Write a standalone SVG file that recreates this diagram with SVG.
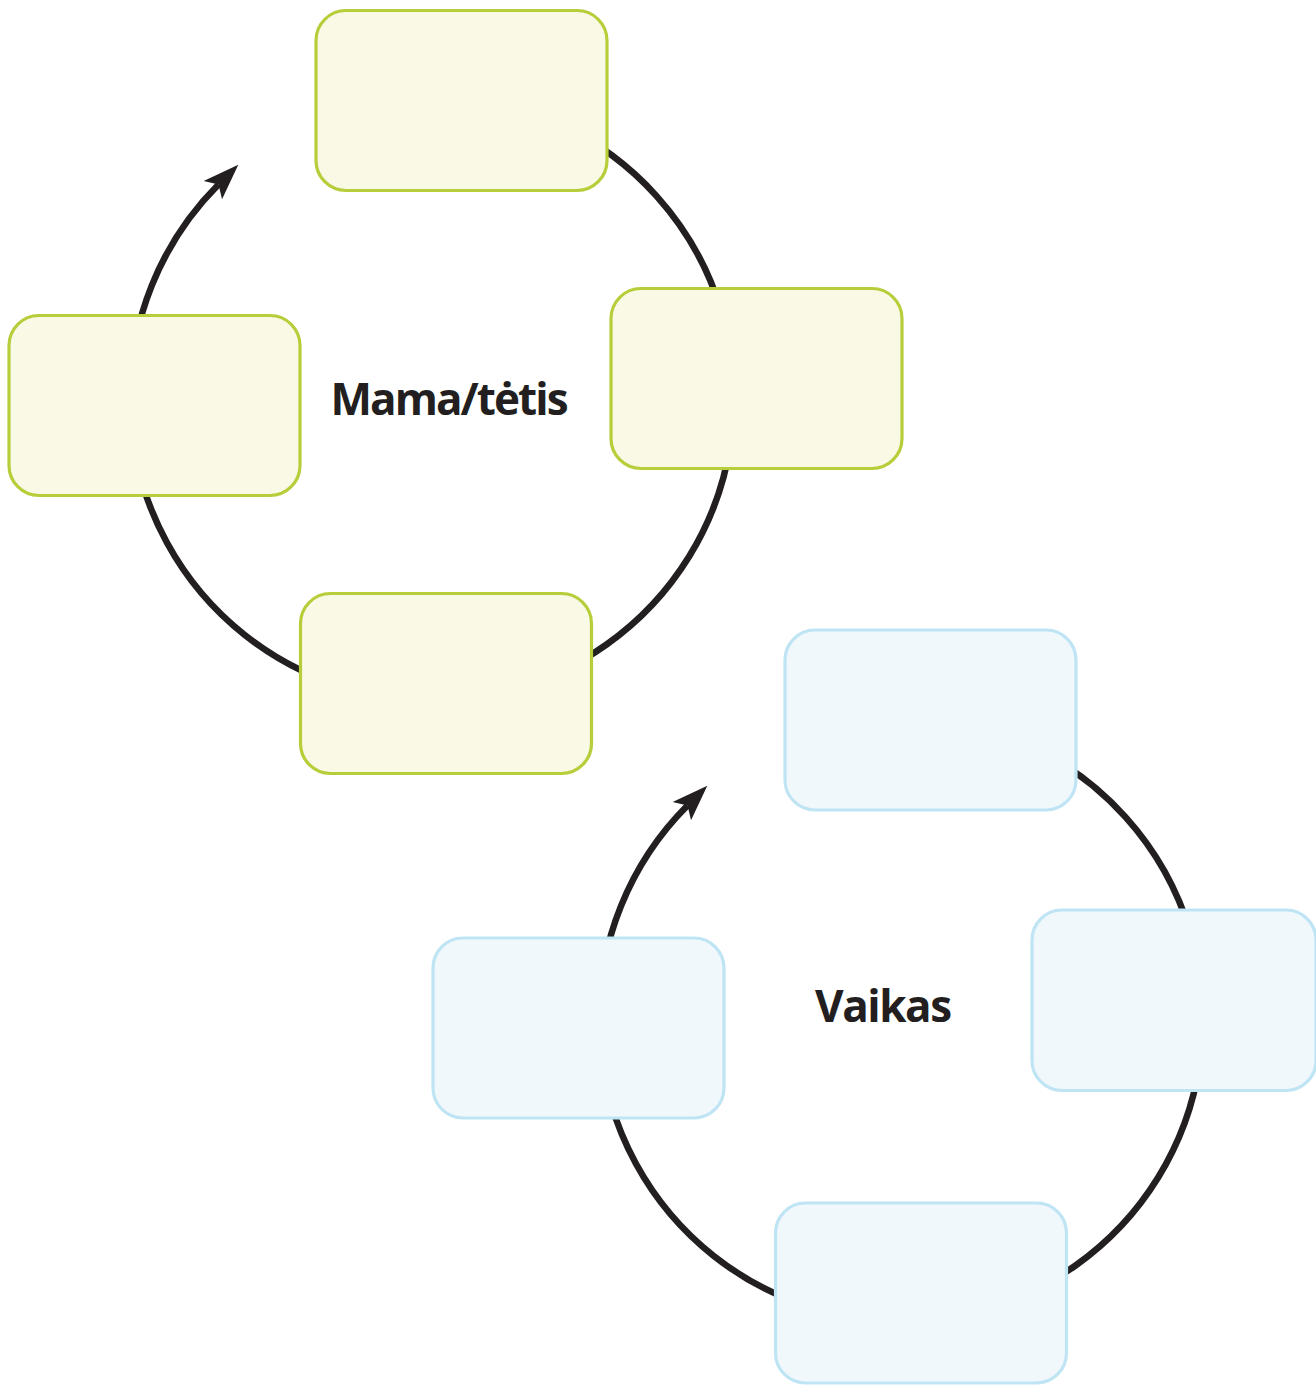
<svg xmlns="http://www.w3.org/2000/svg" width="1316" height="1385" viewBox="0 0 1316 1385">
<style>
.g{fill:#f9f9e6;stroke:#b8cd3a;stroke-width:3.2}
.b{fill:#f0f8fc;stroke:#bfe4f4;stroke-width:3.2}
.c{fill:none;stroke:#231f20;stroke-width:6.5}
.t{font-family:"Open Sans","Liberation Sans",sans-serif;font-weight:bold;font-size:44px;fill:#231f20;text-anchor:middle}
</style>
<defs>
<marker id="ah" markerUnits="userSpaceOnUse" markerWidth="40" markerHeight="30" refX="8" refY="0" orient="auto" overflow="visible">
<path d="M0,-13 L36,0 L0,13 L8,0 Z" fill="#231f20"/>
</marker>
</defs>
<rect width="1316" height="1385" fill="#ffffff"/>
<g id="connectors">
<path class="c" d="M559.6,124.3 A302,302 0 1 1 218.5,184.5" marker-end="url(#ah)"/>
<path class="c" d="M1028.6,745.3 A302,302 0 1 1 687.5,805.5" marker-end="url(#ah)"/>
</g>
<g id="parent-top"><rect class="g" x="316" y="10.5" width="291" height="180" rx="30"/></g>
<g id="parent-right"><rect class="g" x="611" y="288.5" width="291" height="180" rx="30"/></g>
<g id="parent-left"><rect class="g" x="9" y="315.5" width="291" height="180" rx="30"/></g>
<g id="parent-bottom"><rect class="g" x="300.5" y="593.5" width="291" height="180" rx="30"/></g>
<g id="parent-label"><text class="t" x="449.5" y="415" textLength="238" lengthAdjust="spacing">Mama/tėtis</text></g>
<g id="child-top"><rect class="b" x="785" y="630" width="291" height="180" rx="30"/></g>
<g id="child-right"><rect class="b" x="1032" y="910" width="284" height="180.5" rx="30"/></g>
<g id="child-left"><rect class="b" x="433" y="938" width="291" height="180" rx="30"/></g>
<g id="child-bottom"><rect class="b" x="775.5" y="1203" width="291" height="180" rx="30"/></g>
<g id="child-label"><text class="t" x="883.5" y="1022" textLength="137" lengthAdjust="spacing">Vaikas</text></g>
</svg>
